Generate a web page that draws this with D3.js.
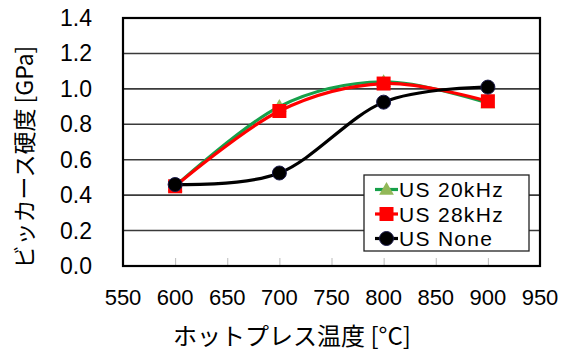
<!DOCTYPE html>
<html>
<head>
<meta charset="utf-8">
<script src="https://cdn.jsdelivr.net/npm/d3@7"></script>
<style>
  html, body { margin: 0; padding: 0; background: #fff; }
  svg text { font-family: "Liberation Sans", Arial, sans-serif; fill: #000; }
  .jp { font-family: "Noto Sans CJK JP", "Liberation Sans", sans-serif; }
</style>
</head>
<body>
<svg id="chart" width="564" height="356"></svg>
<script>
// Hot-press temperature (°C) on x, Vickers hardness (GPa) on y
const temps = [600, 700, 800, 900];
const us20k = [0.45, 0.90, 1.04, 0.92];
const us28k = [0.45, 0.875, 1.03, 0.93];
const usNone = [0.46, 0.525, 0.925, 1.01];
const xTicks = [550, 600, 650, 700, 750, 800, 850, 900, 950];
const yTicks = [0.0, 0.2, 0.4, 0.6, 0.8, 1.0, 1.2, 1.4];
const seriesNames = ["US 20kHz", "US 28kHz", "US None"];

const svg = d3.select("#chart");
const plot = { left: 123, right: 540, top: 18, bottom: 266 };

const x = d3.scaleLinear().domain([550, 950]).range([plot.left, plot.right]);
const y = d3.scaleLinear().domain([0, 1.4]).range([plot.bottom, plot.top]);

// horizontal gridlines
svg.append("g").selectAll("line")
  .data(yTicks.filter(v => v > 0 && v < 1.4))
  .join("line")
  .attr("x1", plot.left).attr("x2", plot.right)
  .attr("y1", d => y(d)).attr("y2", d => y(d))
  .attr("stroke", "#3a3a3a").attr("stroke-width", 1.6);

// inward x ticks along the bottom
const xAxis = d3.axisBottom(x).tickValues(xTicks).tickSize(-8).tickFormat("");
const gx = svg.append("g").attr("transform", `translate(0,${plot.bottom})`).call(xAxis);
gx.select(".domain").remove();
gx.selectAll(".tick line").attr("stroke", "#bbb").attr("stroke-width", 1);

// x tick labels
svg.append("g").selectAll("text")
  .data(xTicks)
  .join("text")
  .attr("x", d => x(d)).attr("y", 305)
  .attr("text-anchor", "middle")
  .attr("font-size", 22)
  .text(d => d);

// y tick labels
svg.append("g").selectAll("text")
  .data(yTicks)
  .join("text")
  .attr("x", 92).attr("y", d => y(d) + 8)
  .attr("text-anchor", "end")
  .attr("font-size", 23)
  .text(d => d.toFixed(1));

// series definitions
const series = [
  { name: seriesNames[0], values: us20k, line: "#16a04a", fill: "#92b858", marker: "triangle" },
  { name: seriesNames[1], values: us28k, line: "#ff0000", fill: "#ff0000", marker: "square" },
  { name: seriesNames[2], values: usNone, line: "#000000", fill: "#000000", marker: "circle" }
];

const lineGen = d3.line()
  .x(d => x(d[0])).y(d => y(d[1]))
  .curve(d3.curveCatmullRom.alpha(0));

function drawMarker(g, type, cx, cy, s) {
  if (type === "triangle") {
    g.append("path")
      .attr("d", d3.symbol(d3.symbolTriangle, 95)())
      .attr("transform", `translate(${cx},${cy + 1})`)
      .attr("fill", s.fill);
  } else if (type === "square") {
    g.append("rect")
      .attr("x", cx - 7).attr("y", cy - 7)
      .attr("width", 14).attr("height", 14)
      .attr("fill", s.fill);
  } else {
    g.append("circle")
      .attr("cx", cx).attr("cy", cy).attr("r", 7)
      .attr("fill", "#000").attr("stroke", "#1a1a4a").attr("stroke-width", 1);
  }
}

const gSeries = svg.append("g");
series.forEach(s => {
  const pts = temps.map((t, i) => [t, s.values[i]]);
  gSeries.append("path")
    .attr("d", lineGen(pts))
    .attr("fill", "none")
    .attr("stroke", s.line)
    .attr("stroke-width", 3.2);
  const gm = gSeries.append("g");
  pts.forEach(p => drawMarker(gm, s.marker, x(p[0]), y(p[1]), s));
});

// plot frame
svg.append("rect")
  .attr("x", plot.left).attr("y", plot.top)
  .attr("width", plot.right - plot.left).attr("height", plot.bottom - plot.top)
  .attr("fill", "none").attr("stroke", "#000").attr("stroke-width", 2.2);

// legend
const leg = svg.append("g");
leg.append("rect")
  .attr("x", 364).attr("y", 175).attr("width", 165).attr("height", 76)
  .attr("fill", "#fff").attr("stroke", "#222").attr("stroke-width", 1.3);
series.forEach((s, i) => {
  const cy = 189.5 + i * 24.5;
  leg.append("line")
    .attr("x1", 375).attr("x2", 398).attr("y1", cy).attr("y2", cy)
    .attr("stroke", s.line).attr("stroke-width", 3.2);
  drawMarker(leg, s.marker, 386.5, cy, s);
  leg.append("text")
    .attr("x", 399).attr("y", cy + 7.5)
    .attr("font-size", 21)
    .attr("letter-spacing", 1.3)
    .text(s.name);
});

// axis titles
svg.append("text")
  .attr("class", "jp")
  .attr("x", 292).attr("y", 345)
  .attr("text-anchor", "middle")
  .attr("font-size", 24)
  .text("ホットプレス温度 [°C]");

svg.append("text")
  .attr("class", "jp")
  .attr("transform", "translate(33,157) rotate(-90)")
  .attr("text-anchor", "middle")
  .attr("font-size", 23)
  .text("ビッカース硬度 [GPa]");
</script>
</body>
</html>
